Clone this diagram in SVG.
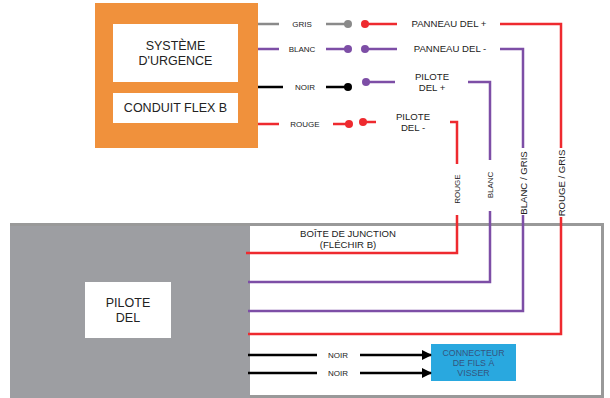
<svg xmlns="http://www.w3.org/2000/svg" width="610" height="398" viewBox="0 0 610 398">
<defs>
<style>
text{font-family:"Liberation Sans",Arial,sans-serif;fill:#222;text-anchor:middle}
.big{font-size:12.5px}
.sm{font-size:8px}
.md{font-size:9.6px}
.w{fill:none;stroke-width:2.5;stroke-linecap:butt;stroke-linejoin:miter}
.r{stroke:#ee2a2f}
.p{stroke:#7d4ea6}
.k{stroke:#000}
.g{stroke:#8a8a8a}
.bt{fill:#34557e;font-size:8.8px}
</style>
<marker id="ah" markerWidth="10" markerHeight="10" refX="9" refY="5" orient="auto" markerUnits="userSpaceOnUse"><path d="M0,0L10,5L0,10z" fill="#000"/></marker>
</defs>
<rect width="610" height="398" fill="#fff"/>
<g id="systeme">
<rect x="95" y="3" width="163" height="145" fill="#f0913c"/>
<rect x="113" y="24" width="125" height="58" fill="#fff"/>
<text class="big" x="175.500" y="50">SYSTÈME</text>
<text class="big" x="175.500" y="65">D'URGENCE</text>
<rect x="113" y="93" width="125" height="30" fill="#fff"/>
<text class="big" x="175.500" y="112">CONDUIT FLEX B</text>
</g>
<g id="boite">
<rect x="10" y="224" width="240" height="174" fill="#9d9ea2"/>
<rect x="250" y="224" width="352" height="172" fill="#fff"/>
<path d="M10,224.500H602.500V396.500H250" fill="none" stroke="#999" stroke-width="3"/>
<text class="md" x="348" y="237">BOÎTE DE JUNCTION</text>
<text class="md" x="348" y="248">(FLÉCHIR B)</text>
</g>
<g id="pilote">
<rect x="85" y="282" width="86" height="56" fill="#fff"/>
<text class="big" x="128" y="307">PILOTE</text>
<text class="big" x="128" y="322">DEL</text>
</g>
<g id="connecteur">
<rect x="431" y="344" width="85" height="37" fill="#29a8df"/>
<text class="bt" x="473.500" y="356">CONNECTEUR</text>
<text class="bt" x="473.500" y="366">DE FILS À</text>
<text class="bt" x="473.500" y="376">VISSER</text>
</g>
<g id="connectors">
<path class="w g" d="M258,24H279M326,24H348"/>
<circle cx="348" cy="24" r="4" fill="#8a8a8a"/>
<text class="sm" x="302" y="27">GRIS</text>
<circle cx="365" cy="24" r="4" fill="#ee2a2f"/>
<path class="w r" d="M365,24H397"/>
<text class="md" x="449" y="27">PANNEAU DEL +</text>
<path class="w r" d="M500,24H561V148M561,217V334H248"/>
<text class="md" transform="translate(564.500,183) rotate(-90)">ROUGE / GRIS</text>
<path class="w p" d="M258,49H279M326,49H348"/>
<circle cx="348" cy="49" r="4" fill="#7d4ea6"/>
<text class="sm" x="302" y="52">BLANC</text>
<circle cx="365" cy="49" r="4" fill="#7d4ea6"/>
<path class="w p" d="M365,49H397"/>
<text class="md" x="450" y="52">PANNEAU DEL -</text>
<path class="w p" d="M500,49H523V148M523,215V311H248"/>
<text class="md" transform="translate(526.500,183) rotate(-90)">BLANC / GRIS</text>
<path class="w k" d="M258,87H283M326,87H348"/>
<circle cx="348" cy="87" r="4" fill="#000"/>
<text class="sm" x="305" y="90">NOIR</text>
<circle cx="366" cy="82" r="4" fill="#7d4ea6"/>
<path class="w p" d="M366,82H395"/>
<text class="md" x="432" y="80">PILOTE</text>
<text class="md" x="432" y="91">DEL +</text>
<path class="w p" d="M468,82H490V160M490,211V282H248"/>
<text class="sm" transform="translate(492.500,185) rotate(-90)">BLANC</text>
<path class="w r" d="M258,124H279M333,124H349"/>
<circle cx="349" cy="124" r="4" fill="#ee2a2f"/>
<text class="sm" x="305" y="127">ROUGE</text>
<circle cx="363" cy="122" r="4" fill="#ee2a2f"/>
<path class="w r" d="M363,122H376"/>
<text class="md" x="413" y="120">PILOTE</text>
<text class="md" x="413" y="131">DEL -</text>
<path class="w r" d="M450,122H457V164M457,215V253H246"/>
<text class="sm" transform="translate(460,189) rotate(-90)">ROUGE</text>
<path class="w k" d="M248,355H317"/>
<text class="sm" x="338" y="358">NOIR</text>
<path class="w k" d="M360,355H431" marker-end="url(#ah)"/>
<path class="w k" d="M248,373H317"/>
<text class="sm" x="338" y="376">NOIR</text>
<path class="w k" d="M360,373H431" marker-end="url(#ah)"/>
</g>
</svg>
